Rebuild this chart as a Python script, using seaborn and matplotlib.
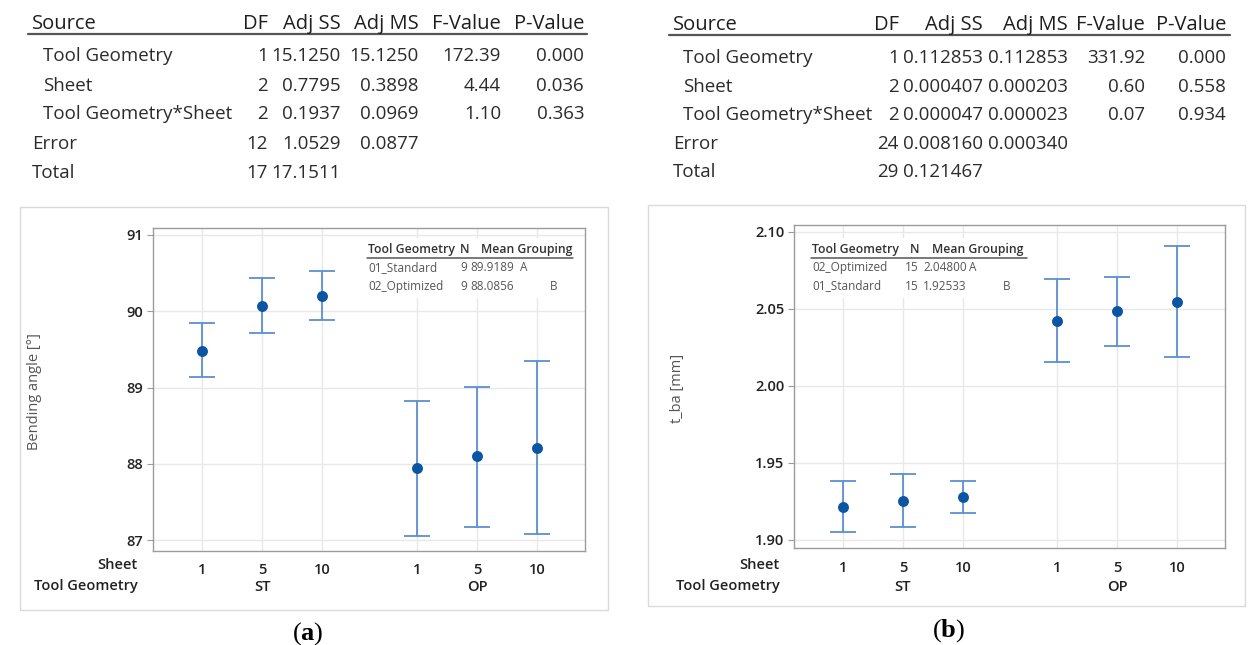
import numpy as np
import pandas as pd
import matplotlib
matplotlib.use("Agg")
import matplotlib.pyplot as plt
import seaborn as sns
from matplotlib.lines import Line2D
from matplotlib.patches import Rectangle

# ---------------- data ----------------
sheets = ["1", "5", "10"]
geometries = ["ST", "OP"]

angle_mean = [89.48, 90.07, 90.20, 87.95, 88.10, 88.21]
angle_low = [89.14, 89.72, 89.88, 87.06, 87.18, 87.08]
angle_high = [89.84, 90.43, 90.53, 88.83, 89.01, 89.35]

tba_mean = [1.9214, 1.9255, 1.9277, 2.0424, 2.0485, 2.0545]
tba_low = [1.9052, 1.9087, 1.9173, 2.0154, 2.0262, 2.0186]
tba_high = [1.9383, 1.9427, 1.9383, 2.0695, 2.0710, 2.0907]

angle_yticks = [87, 88, 89, 90, 91]
tba_yticks = [1.90, 1.95, 2.00, 2.05, 2.10]

table_cols = ["Source", "DF", "Adj SS", "Adj MS", "F-Value", "P-Value"]
table_sources = ["Tool Geometry", "Sheet", "Tool Geometry*Sheet", "Error", "Total"]
a_df = ["1", "2", "2", "12", "17"]
a_adjss = ["15.1250", "0.7795", "0.1937", "1.0529", "17.1511"]
a_adjms = ["15.1250", "0.3898", "0.0969", "0.0877", ""]
a_f = ["172.39", "4.44", "1.10", "", ""]
a_p = ["0.000", "0.036", "0.363", "", ""]
b_df = ["1", "2", "2", "24", "29"]
b_adjss = ["0.112853", "0.000407", "0.000047", "0.008160", "0.121467"]
b_adjms = ["0.112853", "0.000203", "0.000023", "0.000340", ""]
b_f = ["331.92", "0.60", "0.07", "", ""]
b_p = ["0.000", "0.558", "0.934", "", ""]

grp_cols = ["Tool Geometry", "N", "Mean", "Grouping"]
a_grp_names = ["01_Standard", "02_Optimized"]
a_grp_n = ["9", "9"]
a_grp_mean = ["89.9189", "88.0856"]
a_grp_letter = ["A", "B"]
b_grp_names = ["02_Optimized", "01_Standard"]
b_grp_n = ["15", "15"]
b_grp_mean = ["2.04800", "1.92533"]
b_grp_letter = ["A", "B"]

# ---------------- style ----------------
sns.set_theme(style="whitegrid")
plt.rcParams["font.family"] = ["Open Sans", "DejaVu Sans"]
plt.rcParams["mathtext.fontset"] = "custom"
plt.rcParams["mathtext.rm"] = "Liberation Serif"
plt.rcParams["mathtext.bf"] = "Liberation Serif:bold"

W, H = 1248, 645
fig = plt.figure(figsize=(W / 100, H / 100), dpi=100)
fig.patch.set_facecolor("white")


def fx(x):
    return x / W


def fy(y):
    return 1 - y / H


PT_COLOR = "#0B55A3"
EB_COLOR = "#5B8FCF"
TXT = "#2b2b2b"


# ---------------- ANOVA tables ----------------
def draw_table(src_x, ind_x, col_r, head_y, row_ys, line_y, line_x0, line_x1, cols):
    fig.text(fx(src_x), fy(head_y), table_cols[0], ha="left", va="baseline",
             fontsize=14.5, color="#1e1e1e")
    for cx, name in zip(col_r, table_cols[1:]):
        fig.text(fx(cx), fy(head_y), name, ha="right", va="baseline",
                 fontsize=14.5, color="#1e1e1e")
    fig.add_artist(Line2D([fx(line_x0), fx(line_x1)], [fy(line_y), fy(line_y)],
                          color="#555555", lw=1.6))
    for i, src in enumerate(table_sources):
        x0 = ind_x if i < 3 else src_x
        fig.text(fx(x0), fy(row_ys[i]), src, ha="left", va="baseline",
                 fontsize=13.5, color=TXT)
        for cx, col in zip(col_r, cols):
            if col[i]:
                fig.text(fx(cx), fy(row_ys[i]), col[i], ha="right", va="baseline",
                         fontsize=13.5, color=TXT)


draw_table(32, 43, [268, 341, 419, 501, 584], 29, [61, 91, 119, 149, 178],
           34, 28, 587, [a_df, a_adjss, a_adjms, a_f, a_p])
draw_table(673, 683, [899, 983, 1068, 1145, 1226], 30, [63, 92, 120, 149, 177],
           35, 669, 1230, [b_df, b_adjss, b_adjms, b_f, b_p])

# ---------------- panel frames ----------------
for (x0, y0, x1, y1) in [(20, 207, 608, 610), (648, 205, 1245, 606)]:
    fig.add_artist(Rectangle((fx(x0), fy(y1)), fx(x1) - fx(x0), fy(y0) - fy(y1),
                             transform=fig.transFigure, fill=False,
                             edgecolor="#DADADA", lw=1.0))

# positions of the groups (layout)
gap = 0.58
positions = [g * (len(sheets) + gap) + s + 1
             for g in range(len(geometries)) for s in range(len(sheets))]
group_centers = [g * (len(sheets) + gap) + 2 for g in range(len(geometries))]


def draw_panel(box, means, lows, highs, ylim, yticks, yfmt, ylabel, ylabel_x,
               label_right, legend):
    l, t, r, b = box
    ax = fig.add_axes([fx(l), fy(b), fx(r) - fx(l), fy(t) - fy(b)])
    df = pd.DataFrame({"pos": positions, "mean": means, "low": lows, "high": highs})
    ax.errorbar(df["pos"], df["mean"],
                yerr=[df["mean"] - df["low"], df["high"] - df["mean"]],
                fmt="none", ecolor=EB_COLOR, elinewidth=1.3, capsize=9.5,
                capthick=1.3, zorder=3)
    sns.scatterplot(data=df, x="pos", y="mean", ax=ax, color=PT_COLOR, s=62,
                    edgecolor=PT_COLOR, linewidth=0, zorder=4, legend=False)
    ax.set_xlim(0.18, 7.38)
    ax.set_ylim(*ylim)
    ax.set_xticks(positions)
    ax.set_xticklabels(sheets * len(geometries))
    ax.set_yticks(yticks)
    ax.set_yticklabels([yfmt.format(v) for v in yticks])
    ax.set_xlabel("")
    ax.set_ylabel("")
    ax.set_facecolor("white")
    ax.grid(True, color="#E8E8E8", lw=1.0)
    ax.set_axisbelow(True)
    for sp in ax.spines.values():
        sp.set_visible(True)
        sp.set_color("#9C9C9C")
        sp.set_linewidth(1.0)
    ax.tick_params(axis="x", length=0, pad=9, labelsize=10.5, labelcolor="#222222")
    ax.tick_params(axis="y", length=4, width=0.8, color="#9C9C9C", pad=3,
                   labelsize=10.5, labelcolor="#222222", left=True)
    for lbl in ax.get_xticklabels() + ax.get_yticklabels():
        lbl.set_fontweight("semibold")
    # group labels
    axh = b - t
    for gc, gname in zip(group_centers, geometries):
        ax.text(gc, -(587 - b) / axh, gname, transform=ax.get_xaxis_transform(),
                ha="center", va="center", fontsize=10.5, color="#222222",
                fontweight="semibold")
    fig.text(fx(label_right), fy(565), "Sheet", ha="right", va="center",
             fontsize=10.5, color="#222222", fontweight="semibold")
    fig.text(fx(label_right), fy(586), "Tool Geometry", ha="right", va="center",
             fontsize=10.5, color="#222222", fontweight="semibold")
    fig.text(fx(ylabel_x), fy((t + b) / 2 + 2), ylabel, rotation=90, ha="center",
             va="center", fontsize=10.5, color="#555555")

    # grouping inset
    lx, cN, cMean, cA, cB, hN, hMean, hx1, bg = legend
    ax.add_patch(Rectangle((fx(bg[0]), fy(bg[3])), fx(bg[2]) - fx(bg[0]),
                           fy(bg[1]) - fy(bg[3]), transform=fig.transFigure,
                           facecolor="white", edgecolor="none", zorder=2))
    fig.text(fx(lx), fy(249), grp_cols[0], ha="left", va="center", fontsize=8.8,
             color="#333333", fontweight="semibold")
    fig.text(fx(hN), fy(249), grp_cols[1], ha="left", va="center", fontsize=8.8,
             color="#333333", fontweight="semibold")
    fig.text(fx(hMean), fy(249), grp_cols[2] + " " + grp_cols[3], ha="left",
             va="center", fontsize=8.8, color="#333333", fontweight="semibold")
    fig.add_artist(Line2D([fx(lx - 1), fx(hx1)], [fy(257.5), fy(257.5)],
                          color="#555555", lw=1.1))
    return ax


draw_panel((153, 228, 585, 551), angle_mean, angle_low, angle_high,
           (86.86, 91.09), angle_yticks, "{:.0f}", "Bending angle [°]", 35, 138,
           (368, 467, 470, 520, 550, 460, 481, 573, (362, 238, 582, 298)))
draw_panel((794, 225, 1225, 548), tba_mean, tba_low, tba_high,
           (1.8948, 2.1045), tba_yticks, "{:.2f}", "t_ba [mm]", 678, 780,
           (812, 919, 923, 969, 1003, 910, 932, 1027, (806, 238, 1034, 298)))


def draw_group_rows(lx, cN, cMean, cA, cB, names, ns, means, letters):
    for i, yy in enumerate([268, 286]):
        fig.text(fx(lx), fy(yy), names[i], ha="left", va="center", fontsize=8.5,
                 color="#555555")
        fig.text(fx(cN), fy(yy), ns[i], ha="right", va="center", fontsize=8.5,
                 color="#555555")
        fig.text(fx(cMean), fy(yy), means[i], ha="left", va="center", fontsize=8.5,
                 color="#555555")
        fig.text(fx(cA if i == 0 else cB), fy(yy), letters[i], ha="left",
                 va="center", fontsize=8.5, color="#555555")


draw_group_rows(368, 467, 470, 520, 550, a_grp_names, a_grp_n, a_grp_mean, a_grp_letter)
draw_group_rows(812, 919, 923, 969, 1003, b_grp_names, b_grp_n, b_grp_mean, b_grp_letter)

# captions
fig.text(fx(308), fy(634), r"($\mathbf{a}$)", ha="center", va="center",
         fontsize=19, color="black", family="Liberation Serif")
fig.text(fx(949), fy(631), r"($\mathbf{b}$)", ha="center", va="center",
         fontsize=19, color="black", family="Liberation Serif")

fig.savefig("out.png", dpi=100, facecolor="white")
